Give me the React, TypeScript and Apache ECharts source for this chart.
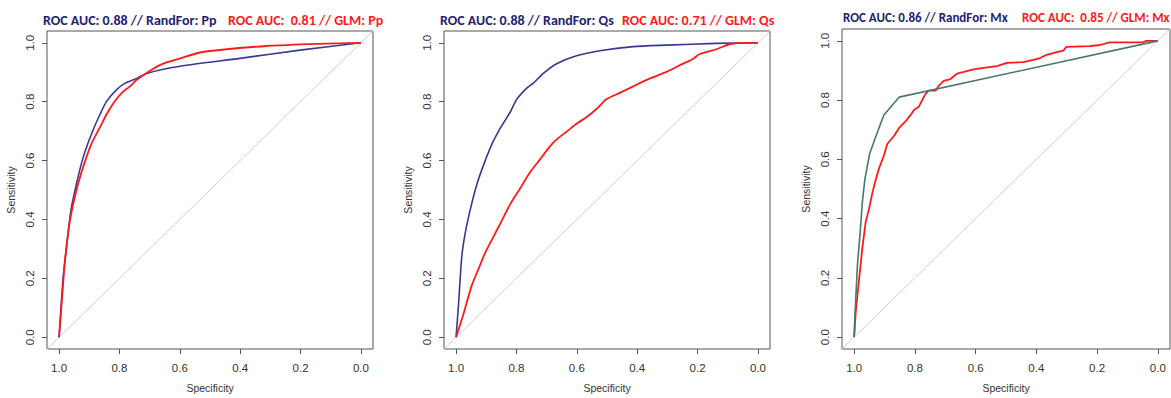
import React, { useEffect, useRef } from "react";
import * as echarts from "echarts";

// Axis ticks
const tickValues = [0, 0.2, 0.4, 0.6, 0.8, 1.0];

// Panel 1: Pp
const rfPpSpec = [1, 0.993, 0.986, 0.975, 0.961, 0.941, 0.919, 0.892, 0.864, 0.842, 0.809, 0.781, 0.743, 0.71, 0.599, 0.401, 0.202, 0];
const rfPpSens = [0, 0.11, 0.209, 0.308, 0.429, 0.527, 0.615, 0.692, 0.758, 0.802, 0.841, 0.863, 0.879, 0.896, 0.92, 0.947, 0.975, 1];
const glmPpSpec = [1, 0.991, 0.98, 0.964, 0.941, 0.919, 0.892, 0.864, 0.842, 0.815, 0.792, 0.765, 0.743, 0.721, 0.688, 0.655, 0.599, 0.533, 0.445, 0.312, 0.147, 0];
const glmPpSens = [0, 0.121, 0.264, 0.396, 0.505, 0.582, 0.659, 0.714, 0.758, 0.802, 0.83, 0.852, 0.874, 0.89, 0.912, 0.929, 0.947, 0.967, 0.978, 0.989, 0.996, 1];

// Panel 2: Qs
const rfQsSpec = [1, 0.992, 0.981, 0.97, 0.954, 0.932, 0.91, 0.882, 0.854, 0.821, 0.799, 0.766, 0.744, 0.711, 0.667, 0.601, 0.524, 0.413, 0.303, 0.138, 0];
const rfQsSens = [0, 0.11, 0.275, 0.352, 0.429, 0.516, 0.582, 0.654, 0.709, 0.764, 0.808, 0.846, 0.863, 0.896, 0.929, 0.956, 0.973, 0.987, 0.992, 0.998, 1];
const glmQsSpec = [1, 0.976, 0.948, 0.926, 0.904, 0.882, 0.854, 0.821, 0.788, 0.755, 0.722, 0.689, 0.662, 0.634, 0.601, 0.568, 0.535, 0.502, 0.458, 0.413, 0.369, 0.303, 0.248, 0.215, 0.193, 0.138, 0.094, 0.039, 0];
const glmQsSens = [0, 0.077, 0.176, 0.231, 0.286, 0.33, 0.385, 0.451, 0.505, 0.56, 0.604, 0.648, 0.676, 0.698, 0.725, 0.747, 0.775, 0.808, 0.83, 0.852, 0.874, 0.901, 0.929, 0.945, 0.962, 0.978, 0.995, 1, 1];

// Panel 3: Mx
const rfMxSpec = [1, 0.997, 0.989, 0.98, 0.973, 0.965, 0.949, 0.926, 0.902, 0.852, 0];
const rfMxSens = [0, 0.082, 0.246, 0.356, 0.455, 0.531, 0.619, 0.685, 0.75, 0.81, 1];
const glmMxSpec = [1, 0.995, 0.984, 0.973, 0.962, 0.951, 0.94, 0.929, 0.918, 0.902, 0.891, 0.869, 0.852, 0.831, 0.814, 0.803, 0.787, 0.776, 0.765, 0.754, 0.732, 0.721, 0.705, 0.683, 0.661, 0.639, 0.607, 0.574, 0.53, 0.497, 0.443, 0.41, 0.388, 0.366, 0.333, 0.311, 0.301, 0.224, 0.191, 0.158, 0.049, 0.038, 0];
const glmMxSens = [0, 0.082, 0.192, 0.301, 0.389, 0.433, 0.487, 0.531, 0.57, 0.613, 0.652, 0.679, 0.706, 0.728, 0.75, 0.767, 0.778, 0.8, 0.821, 0.832, 0.832, 0.849, 0.865, 0.871, 0.889, 0.895, 0.904, 0.909, 0.915, 0.926, 0.928, 0.936, 0.942, 0.953, 0.962, 0.967, 0.98, 0.982, 0.986, 0.995, 0.995, 1, 1];

// Reference diagonal (chance line), spans full plot range
const diagSpec = [1.04, -0.04];
const diagSens = [-0.04, 1.04];

const zip = (a: number[], b: number[]) => a.map((v, i) => [v, b[i]]);

const NAVY = "#1f2370";
const RED = "#ff1a1a";
const BLUE_LINE = "#383894";
const TEAL_LINE = "#46786e";

const panels = [
  {
    grid: { left: 47, top: 31, width: 326, height: 327 },
    rf: zip(rfPpSpec, rfPpSens), glm: zip(glmPpSpec, glmPpSens), rfColor: BLUE_LINE, smooth: 0.25,
    t1: "ROC AUC: 0.88 // RandFor: Pp", t2: "ROC AUC:  0.81 // GLM: Pp", t1x: 43, t2x: 228, ty: 20, fs: 14,
  },
  {
    grid: { left: 444, top: 31, width: 326, height: 327 },
    rf: zip(rfQsSpec, rfQsSens), glm: zip(glmQsSpec, glmQsSens), rfColor: BLUE_LINE, smooth: 0.25,
    t1: "ROC AUC: 0.88 // RandFor: Qs", t2: "ROC AUC: 0.71 // GLM: Qs", t1x: 440, t2x: 622, ty: 20, fs: 14,
  },
  {
    grid: { left: 842, top: 29, width: 328, height: 328 },
    rf: zip(rfMxSpec, rfMxSens), glm: zip(glmMxSpec, glmMxSens), rfColor: TEAL_LINE, smooth: 0,
    t1: "ROC AUC: 0.86 // RandFor: Mx", t2: "ROC AUC:  0.85 // GLM: Mx", t1x: 843, t2x: 1022, ty: 17, fs: 13,
  },
];

const AXIS_FONT = "Liberation Sans, Arial, sans-serif";
const TITLE_FONT = "Carlito, Lato, sans-serif";

export default function App() {
  const ref = useRef<HTMLDivElement>(null);
  useEffect(() => {
    if (!ref.current) return;
    const chart = echarts.init(ref.current, undefined, { renderer: "svg" });
    const grids: any[] = [];
    const xAxes: any[] = [];
    const yAxes: any[] = [];
    const series: any[] = [];
    const graphics: any[] = [];
    panels.forEach((p, i) => {
      grids.push({ ...p.grid, show: true, borderColor: "#555", borderWidth: 1, backgroundColor: "transparent", containLabel: false });
      const common = {
        type: "value",
        gridIndex: i,
        min: -0.04,
        max: 1.04,
        splitLine: { show: false },
        axisLine: { show: false, onZero: false },
        axisTick: { show: true, customValues: tickValues, length: 5, lineStyle: { color: "#555", width: 1 } },
        nameTextStyle: { fontFamily: AXIS_FONT, fontSize: 10.5, color: "#333" },
        nameLocation: "middle",
      };
      xAxes.push({
        ...common,
        position: "bottom",
        inverse: true,
        name: "Specificity",
        nameGap: 33,
        axisLabel: { customValues: tickValues, formatter: (v: number) => v.toFixed(1), fontFamily: AXIS_FONT, fontSize: 11.5, color: "#333", margin: 13 },
      });
      yAxes.push({
        ...common,
        position: "left",
        name: "Sensitivity",
        nameGap: 31,
        axisLabel: { customValues: tickValues, rotate: 90, formatter: (v: number) => v.toFixed(1), fontFamily: AXIS_FONT, fontSize: 11.5, color: "#333", margin: 11 },
      });
      series.push({
        type: "line", xAxisIndex: i, yAxisIndex: i, data: zip(diagSpec, diagSens), showSymbol: false, symbol: "none",
        lineStyle: { color: "#cfcfcf", width: 1 }, silent: true, z: 1, clip: true,
      });
      series.push({
        type: "line", xAxisIndex: i, yAxisIndex: i, data: p.rf, showSymbol: false, symbol: "none", smooth: p.smooth,
        lineStyle: { color: p.rfColor, width: 1.6 }, z: 2,
      });
      series.push({
        type: "line", xAxisIndex: i, yAxisIndex: i, data: p.glm, showSymbol: false, symbol: "none", smooth: p.smooth,
        lineStyle: { color: RED, width: 1.8 }, z: i === 2 ? 1.5 : 3,
      });
      graphics.push({
        type: "text", x: p.t1x, y: p.ty,
        style: { text: p.t1, fill: NAVY, font: `bold ${p.fs}px ${TITLE_FONT}`, verticalAlign: "middle" },
      });
      graphics.push({
        type: "text", x: p.t2x, y: p.ty,
        style: { text: p.t2, fill: RED, font: `bold ${p.fs}px ${TITLE_FONT}`, verticalAlign: "middle" },
      });
    });
    chart.setOption({
      animation: false,
      backgroundColor: "#ffffff",
      grid: grids,
      xAxis: xAxes,
      yAxis: yAxes,
      series,
      graphic: graphics,
    });
    return () => chart.dispose();
  }, []);
  return <div ref={ref} style={{ position: "absolute", left: 0, top: 0, width: 1171, height: 398 }} />;
}
